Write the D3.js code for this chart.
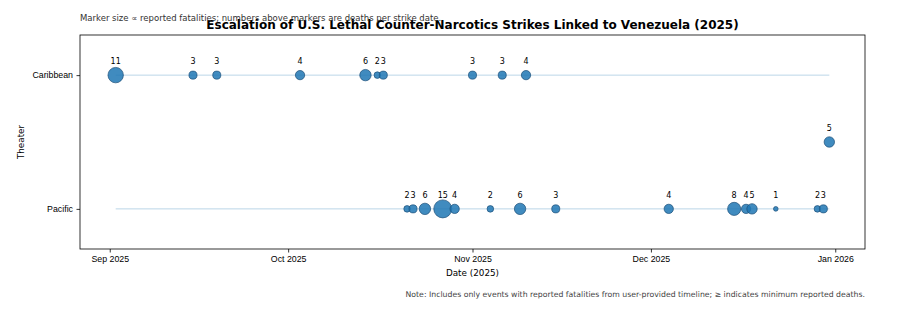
<!DOCTYPE html>
<html>
<head>
<meta charset="utf-8">
<script src="https://cdn.jsdelivr.net/npm/d3@7"></script>
<style>
  body { margin: 0; background: #fff; }
  svg { font-family: "DejaVu Sans", sans-serif; }
  .axis path, .axis line { stroke: #000; stroke-width: 0.8; }
  .axis text { font-size: 8.8px; fill: #000; }
</style>
</head>
<body>
<svg id="chart" width="920" height="318"></svg>
<script>
// Strike events
var caribbeanDates = ["2025-09-02", "2025-09-15", "2025-09-19", "2025-10-03", "2025-10-14",
                      "2025-10-16", "2025-10-17", "2025-11-01", "2025-11-06", "2025-11-10"];
var caribbeanDeaths = [11, 3, 3, 4, 6, 2, 3, 3, 3, 4];

var pacificDates = ["2025-10-21", "2025-10-22", "2025-10-24", "2025-10-27", "2025-10-29",
                    "2025-11-04", "2025-11-09", "2025-11-15", "2025-12-04", "2025-12-15",
                    "2025-12-17", "2025-12-18", "2025-12-22", "2025-12-29", "2025-12-30"];
var pacificDeaths = [2, 3, 6, 15, 4, 2, 6, 3, 4, 8, 4, 5, 1, 2, 3];

// one event sits between the two theaters
var otherDates = ["2025-12-31"];
var otherDeaths = [5];

var theaters = ["Caribbean", "Pacific"];
var xTickDates = ["2025-09-01", "2025-10-01", "2025-11-01", "2025-12-01", "2026-01-01"];
var xTickLabels = ["Sep 2025", "Oct 2025", "Nov 2025", "Dec 2025", "Jan 2026"];

var parse = d3.timeParse("%Y-%m-%d");

function rows(dates, deaths, pos) {
  return dates.map(function(d, i) { return { date: parse(d), deaths: deaths[i], pos: pos }; });
}
var events = rows(caribbeanDates, caribbeanDeaths, 0)
  .concat(rows(pacificDates, pacificDeaths, 1))
  .concat(rows(otherDates, otherDeaths, 0.5));

var margin = {top: 35, right: 55, bottom: 69, left: 80},
    width = 920 - margin.left - margin.right,
    height = 318 - margin.top - margin.bottom;

var extent = d3.extent(events, function(d) { return d.date; });
var pad = (extent[1] - extent[0]) * 0.05;

var x = d3.scaleTime()
    .domain([new Date(+extent[0] - pad), new Date(+extent[1] + pad)])
    .range([0, width]);

var y = d3.scaleLinear()
    .domain([-0.3, 1.3])
    .range([0, height]);

var r = d3.scaleSqrt().domain([0, 15]).range([0, 9]);

var svg = d3.select("#chart");

var g = svg.append("g")
    .attr("transform", "translate(" + margin.left + "," + margin.top + ")");

// faint guide line per theater
theaters.forEach(function(t, i) {
  g.append("line")
      .attr("x1", x(extent[0])).attr("x2", x(extent[1]))
      .attr("y1", y(i)).attr("y2", y(i))
      .attr("stroke", "#1f77b4").attr("stroke-opacity", 0.3).attr("stroke-width", 1);
});

g.selectAll("circle.pt")
    .data(events)
  .enter().append("circle")
    .attr("class", "pt")
    .attr("cx", function(d) { return x(d.date); })
    .attr("cy", function(d) { return y(d.pos); })
    .attr("r", function(d) { return r(d.deaths); })
    .attr("fill", "#1f77b4").attr("fill-opacity", 0.85)
    .attr("stroke", "#1d4f78").attr("stroke-width", 0.7);

g.selectAll("text.lbl")
    .data(events)
  .enter().append("text")
    .attr("class", "lbl")
    .attr("x", function(d) { return x(d.date); })
    .attr("y", function(d) { return y(d.pos) - 11; })
    .attr("text-anchor", "middle")
    .style("font-size", "8px")
    .text(function(d) { return d.deaths; });

var xAxis = d3.axisBottom(x)
    .tickValues(xTickDates.map(parse))
    .tickFormat(function(d, i) { return xTickLabels[i]; })
    .tickSize(3.5).tickPadding(3.5);

var yAxis = d3.axisLeft(y)
    .tickValues([0, 1])
    .tickFormat(function(d) { return theaters[d]; })
    .tickSize(3.5).tickPadding(3.5);

g.append("g").attr("class", "x axis")
    .attr("transform", "translate(0," + height + ")")
    .call(xAxis)
    .select(".domain").remove();

g.append("g").attr("class", "y axis")
    .call(yAxis)
    .select(".domain").remove();

// frame
g.append("rect")
    .attr("width", width).attr("height", height)
    .attr("fill", "none").attr("stroke", "#000").attr("stroke-width", 0.8);

g.append("text")
    .attr("x", width / 2).attr("y", height + 27)
    .attr("text-anchor", "middle").style("font-size", "8.8px")
    .text("Date (2025)");

g.append("text")
    .attr("transform", "translate(-56," + (height / 2) + ") rotate(-90)")
    .attr("text-anchor", "middle").style("font-size", "8.8px")
    .text("Theater");

svg.append("text")
    .attr("x", margin.left + width / 2).attr("y", 29)
    .attr("text-anchor", "middle")
    .style("font-size", "12px").style("font-weight", "bold")
    .text("Escalation of U.S. Lethal Counter-Narcotics Strikes Linked to Venezuela (2025)");

svg.append("text")
    .attr("x", margin.left).attr("y", 21)
    .style("font-size", "8.5px").attr("fill", "#333")
    .text("Marker size \u221d reported fatalities; numbers above markers are deaths per strike date.");

svg.append("text")
    .attr("x", margin.left + width).attr("y", 297)
    .attr("text-anchor", "end")
    .style("font-size", "7.75px").attr("fill", "#444")
    .text("Note: Includes only events with reported fatalities from user-provided timeline; \u2265 indicates minimum reported deaths.");
</script>
</body>
</html>
